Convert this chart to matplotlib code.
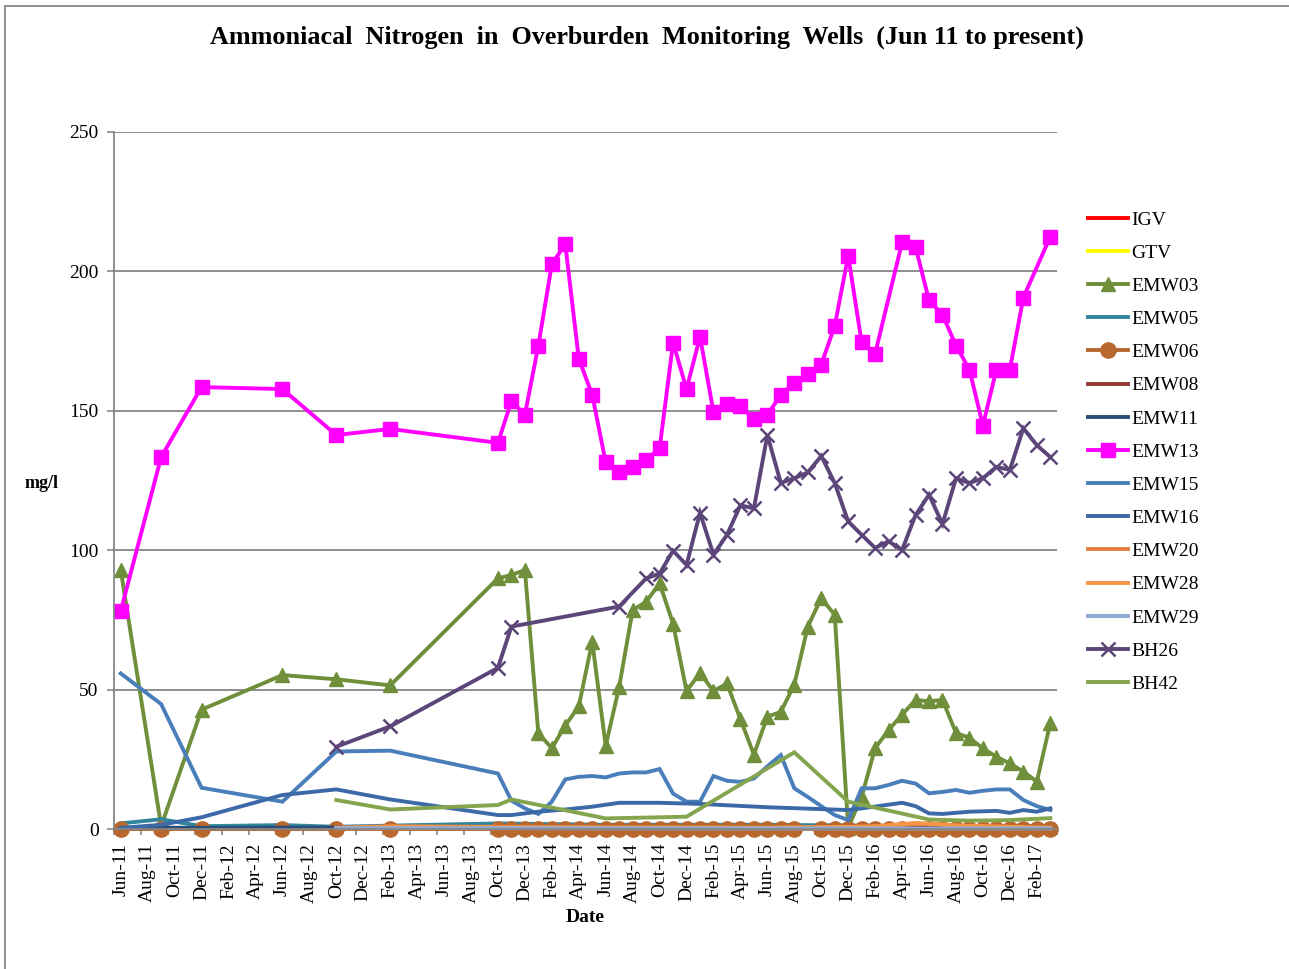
import matplotlib
matplotlib.use('Agg')
import matplotlib.pyplot as plt
from matplotlib.lines import Line2D

plt.rcParams['font.family'] = ['Liberation Serif', 'DejaVu Serif']

# ---------------- data ----------------
tick_labels = ['Jun-11', 'Aug-11', 'Oct-11', 'Dec-11', 'Feb-12', 'Apr-12', 'Jun-12', 'Aug-12',
               'Oct-12', 'Dec-12', 'Feb-13', 'Apr-13', 'Jun-13', 'Aug-13', 'Oct-13', 'Dec-13',
               'Feb-14', 'Apr-14', 'Jun-14', 'Aug-14', 'Oct-14', 'Dec-14', 'Feb-15', 'Apr-15',
               'Jun-15', 'Aug-15', 'Oct-15', 'Dec-15', 'Feb-16', 'Apr-16', 'Jun-16', 'Aug-16',
               'Oct-16', 'Dec-16', 'Feb-17']

igv_dates, igv_vals = [], []
gtv_dates, gtv_vals = [], []

emw03_dates = ['2011-06', '2011-09', '2011-12', '2012-06', '2012-10', '2013-02', '2013-10', '2013-11',
               '2013-12', '2014-01', '2014-02', '2014-03', '2014-04', '2014-05', '2014-06', '2014-07',
               '2014-08', '2014-09', '2014-10', '2014-11', '2014-12', '2015-01', '2015-02', '2015-03',
               '2015-04', '2015-05', '2015-06', '2015-07', '2015-08', '2015-09', '2015-10', '2015-11',
               '2015-12', '2016-01', '2016-02', '2016-03', '2016-04', '2016-05', '2016-06', '2016-07',
               '2016-08', '2016-09', '2016-10', '2016-11', '2016-12', '2017-01', '2017-02', '2017-03']
emw03_vals = [92.9, 1.0, 42.8, 55.2, 53.7, 51.5, 89.9, 91.1,
              92.9, 34.3, 29.0, 37.1, 44.0, 67.2, 29.8, 51.0,
              78.5, 81.5, 88.1, 73.7, 49.4, 56.1, 49.4, 52.2,
              39.4, 26.7, 40.3, 42.0, 51.8, 72.6, 82.8, 76.8,
              0.5, 11.6, 29.0, 35.5, 41.0, 46.3, 45.8, 46.3,
              34.5, 32.7, 28.9, 25.9, 23.5, 20.6, 17.0, 37.9]

emw05_dates = ['2011-06', '2011-09', '2011-12', '2012-06', '2012-10', '2013-10', '2014-06', '2015-06',
               '2016-06', '2017-03']
emw05_vals = [2.0, 3.5, 1.0, 1.4, 0.8, 2.0, 1.5, 1.5, 1.0, 1.0]

emw06_dates = ['2011-06', '2011-09', '2011-12', '2012-06', '2012-10', '2013-02',
               '2013-10', '2013-11', '2013-12',
               '2014-01', '2014-02', '2014-03', '2014-04', '2014-05', '2014-06',
               '2014-07', '2014-08', '2014-09', '2014-10', '2014-11', '2014-12',
               '2015-01', '2015-02', '2015-03', '2015-04', '2015-05', '2015-06', '2015-07', '2015-08',
               '2015-10', '2015-11', '2015-12',
               '2016-01', '2016-02', '2016-03', '2016-04', '2016-05', '2016-06',
               '2016-07', '2016-08', '2016-09', '2016-10', '2016-11', '2016-12',
               '2017-01', '2017-02', '2017-03']
emw06_vals = [0, 0, 0, 0, 0, 0,
              0, 0, 0,
              0, 0, 0, 0, 0, 0,
              0, 0, 0, 0, 0, 0,
              0, 0, 0, 0, 0, 0, 0, 0,
              0, 0, 0,
              0, 0, 0, 0, 0, 0,
              0, 0, 0, 0, 0, 0,
              0, 0, 0]

emw08_dates = ['2013-10', '2014-06', '2015-06', '2016-06', '2017-03']
emw08_vals = [0.3, 0.3, 0.3, 0.3, 0.3]

emw11_dates = ['2011-06', '2011-09', '2011-12', '2012-06', '2012-10']
emw11_vals = [0.3, 0.5, 0.4, 0.5, 0.5]

emw13_dates = ['2011-06', '2011-09', '2011-12', '2012-06', '2012-10', '2013-02', '2013-10', '2013-11',
               '2013-12', '2014-01', '2014-02', '2014-03', '2014-04', '2014-05', '2014-06', '2014-07',
               '2014-08', '2014-09', '2014-10', '2014-11', '2014-12', '2015-01', '2015-02', '2015-03',
               '2015-04', '2015-05', '2015-06', '2015-07', '2015-08', '2015-09', '2015-10', '2015-11',
               '2015-12', '2016-01', '2016-02', '2016-04', '2016-05', '2016-06', '2016-07', '2016-08',
               '2016-09', '2016-10', '2016-11', '2016-12', '2017-01', '2017-03']
emw13_vals = [78.2, 133.4, 158.5, 157.8, 141.3, 143.5, 138.5, 153.5,
              148.5, 173.4, 202.6, 209.8, 168.7, 155.7, 131.5, 128.0,
              129.9, 132.5, 136.5, 174.4, 157.8, 176.6, 149.5, 152.6,
              151.7, 146.9, 148.6, 155.7, 160.0, 163.3, 166.6, 180.4,
              205.6, 174.5, 170.5, 210.4, 208.8, 189.6, 184.5, 173.4,
              164.8, 144.7, 164.8, 164.8, 190.6, 212.4]

emw15_dates = ['2011-06', '2011-09', '2011-12', '2012-06', '2012-10', '2013-02', '2013-10', '2013-11',
               '2013-12', '2014-01', '2014-02', '2014-03', '2014-04', '2014-05', '2014-06', '2014-07',
               '2014-08', '2014-09', '2014-10', '2014-11', '2014-12', '2015-01', '2015-02', '2015-03',
               '2015-04', '2015-05', '2015-06', '2015-07', '2015-08', '2015-09', '2015-10', '2015-11',
               '2015-12', '2016-01', '2016-02', '2016-03', '2016-04', '2016-05', '2016-06', '2016-07',
               '2016-08', '2016-09', '2016-10', '2016-11', '2016-12', '2017-01', '2017-02', '2017-03']
emw15_vals = [55.8, 44.8, 14.8, 9.8, 27.8, 28.1, 19.9, 10.2,
              7.4, 5.4, 9.8, 17.8, 18.7, 19.0, 18.5, 19.9,
              20.3, 20.3, 21.5, 12.7, 9.8, 9.8, 19.0, 17.3,
              16.9, 18.1, 22.5, 26.5, 14.6, 11.5, 8.2, 5.0,
              3.2, 14.6, 14.6, 15.8, 17.3, 16.3, 12.8, 13.3,
              14.0, 13.0, 13.7, 14.2, 14.2, 10.4, 8.2, 6.8]

emw16_dates = ['2011-06', '2011-09', '2011-12', '2012-06', '2012-10', '2013-02', '2013-10', '2013-11',
               '2014-01', '2014-03', '2014-05', '2014-07', '2014-10', '2015-01', '2015-06', '2015-12',
               '2016-01', '2016-04', '2016-05', '2016-06', '2016-07', '2016-09', '2016-11', '2016-12',
               '2017-01', '2017-02', '2017-03']
emw16_vals = [0.4, 1.5, 4.2, 12.2, 14.2, 10.6, 5.0, 5.0,
              6.2, 7.0, 8.0, 9.4, 9.4, 9.0, 7.8, 6.8,
              7.4, 9.4, 8.2, 5.6, 5.4, 6.2, 6.5, 5.8,
              6.8, 6.2, 7.4]

emw20_dates = ['2012-10', '2013-02', '2013-10', '2014-06', '2015-06', '2016-01', '2016-04', '2016-06',
               '2016-09', '2017-03']
emw20_vals = [0.5, 1.0, 0.8, 0.6, 0.5, 0.8, 1.5, 2.0, 1.0, 0.3]

emw28_dates = ['2012-10', '2013-02', '2013-10', '2014-06', '2015-06', '2016-02', '2016-05', '2016-08',
               '2017-03']
emw28_vals = [0.3, 0.8, 0.6, 0.5, 0.4, 0.9, 2.2, 1.2, 0.5]

emw29_dates = ['2012-10', '2013-10', '2014-10', '2015-10', '2016-10', '2017-03']
emw29_vals = [0.3, 0.3, 0.2, 0.2, 0.2, 0.2]

bh26_dates = ['2012-10', '2013-02', '2013-10', '2013-11', '2014-07', '2014-09', '2014-10', '2014-11',
              '2014-12', '2015-01', '2015-02', '2015-03', '2015-04', '2015-05', '2015-06', '2015-07',
              '2015-08', '2015-09', '2015-10', '2015-11', '2015-12', '2016-01', '2016-02', '2016-03',
              '2016-04', '2016-05', '2016-06', '2016-07', '2016-08', '2016-09', '2016-10', '2016-11',
              '2016-12', '2017-01', '2017-02', '2017-03']
bh26_vals = [29.5, 36.8, 57.8, 72.6, 79.8, 89.9, 91.6, 99.8,
             94.7, 113.4, 98.4, 105.5, 116.1, 115.0, 141.3, 124.1,
             125.8, 127.9, 133.8, 124.1, 110.3, 105.5, 100.8, 103.2,
             100.1, 112.6, 119.9, 109.4, 125.8, 124.1, 125.8, 129.9,
             128.8, 143.7, 137.7, 133.4]

bh42_dates = ['2012-10', '2013-02', '2013-10', '2013-11', '2014-06', '2014-12', '2015-08', '2015-12',
              '2016-06', '2016-09', '2016-12', '2017-03']
bh42_vals = [10.4, 7.0, 8.6, 10.6, 3.8, 4.4, 27.5, 9.8, 3.4, 3.0, 3.2, 3.9]

# ---------------- helpers ----------------
MONTH_NAMES = ['Jan', 'Feb', 'Mar', 'Apr', 'May', 'Jun', 'Jul', 'Aug', 'Sep', 'Oct', 'Nov', 'Dec']


def month_index(s):
    y, m = s.split('-')
    return (int(y) - 2011) * 12 + int(m) - 6


def label_index(lbl):
    mon, yy = lbl.split('-')
    return (2000 + int(yy) - 2011) * 12 + MONTH_NAMES.index(mon) + 1 - 6


series = [
    ('IGV', igv_dates, igv_vals, '#FF0000', None, {}),
    ('GTV', gtv_dates, gtv_vals, '#FFFF00', None, {}),
    ('EMW03', emw03_dates, emw03_vals, '#6F8F3A', '^', dict(markersize=10.5)),
    ('EMW05', emw05_dates, emw05_vals, '#31859C', None, {}),
    ('EMW06', emw06_dates, emw06_vals, '#B8682E', 'o', dict(markersize=11)),
    ('EMW08', emw08_dates, emw08_vals, '#953735', None, {}),
    ('EMW11', emw11_dates, emw11_vals, '#2C4D75', None, {}),
    ('EMW13', emw13_dates, emw13_vals, '#FF00FF', 's', dict(markersize=10)),
    ('EMW15', emw15_dates, emw15_vals, '#4A7EBB', None, {}),
    ('EMW16', emw16_dates, emw16_vals, '#3C6AA8', None, {}),
    ('EMW20', emw20_dates, emw20_vals, '#E3803E', None, {}),
    ('EMW28', emw28_dates, emw28_vals, '#F79646', None, {}),
    ('EMW29', emw29_dates, emw29_vals, '#8EAAD6', None, {}),
    ('BH26', bh26_dates, bh26_vals, '#5C4579', 'x', dict(markersize=10, markeredgewidth=1.8)),
    ('BH42', bh42_dates, bh42_vals, '#84A54E', None, {}),
]

# ---------------- figure ----------------
W, H = 1289, 969
fig = plt.figure(figsize=(W / 100, H / 100), dpi=100)
ax = fig.add_axes([114 / W, 1 - 829 / H, (1057 - 114) / W, (829 - 132) / H])

for name, d, v, col, mk, kw in series:
    xs = [month_index(s) for s in d]
    ax.plot(xs, v, color=col, lw=2.8, marker=mk, markerfacecolor=col, markeredgecolor=col,
            label=name, clip_on=False, solid_joinstyle='miter', **kw)

ax.set_ylim(0, 250)
ax.set_xlim(-0.5, 69.5)
ax.set_yticks([0, 50, 100, 150, 200, 250])
ax.yaxis.grid(True, color='#868686', lw=1.3)
ax.set_axisbelow(True)

label_pos = [label_index(l) for l in tick_labels]
ax.set_xticks(label_pos)
ax.set_xticklabels(tick_labels, rotation=90, fontsize=14)
ax.set_xticks([p - 0.5 for p in label_pos] + [label_pos[-1] + 1.5], minor=True)
ax.tick_params(axis='x', which='major', length=0, pad=10)
ax.tick_params(axis='x', which='minor', length=4, width=1.2, color='#868686', direction='out')
ax.tick_params(axis='y', which='major', length=5, width=1.2, color='#868686', direction='out',
               labelsize=14, pad=6)

for sp in ['top', 'right']:
    ax.spines[sp].set_visible(False)
for sp in ['left', 'bottom']:
    ax.spines[sp].set_color('#868686')
    ax.spines[sp].set_linewidth(1.3)

fig.text(647 / W, 1 - 37 / H, 'Ammoniacal  Nitrogen  in  Overburden  Monitoring  Wells  (Jun 11 to present)',
         ha='center', va='center', fontsize=18.8, fontweight='bold')
fig.text(42 / W, 1 - 483 / H, 'mg/l', ha='center', va='center', fontsize=13, fontweight='bold')
fig.text(585 / W, 1 - 918 / H, 'Date', ha='center', va='center', fontsize=14, fontweight='bold')

ax.legend(loc='upper left', bbox_to_anchor=(1088 / W, 1 - 211 / H), bbox_transform=fig.transFigure,
          frameon=False, fontsize=14, handlelength=2.05, handletextpad=0.2, labelspacing=0.80,
          borderpad=0, borderaxespad=0, numpoints=1)

fig.add_artist(Line2D([5 / W, 5 / W], [0, 1 - 6 / H], transform=fig.transFigure, color='#868686', lw=1.3))
fig.add_artist(Line2D([5 / W, 1], [1 - 6 / H, 1 - 6 / H], transform=fig.transFigure, color='#868686', lw=1.3))

fig.savefig('out.png', dpi=100)
